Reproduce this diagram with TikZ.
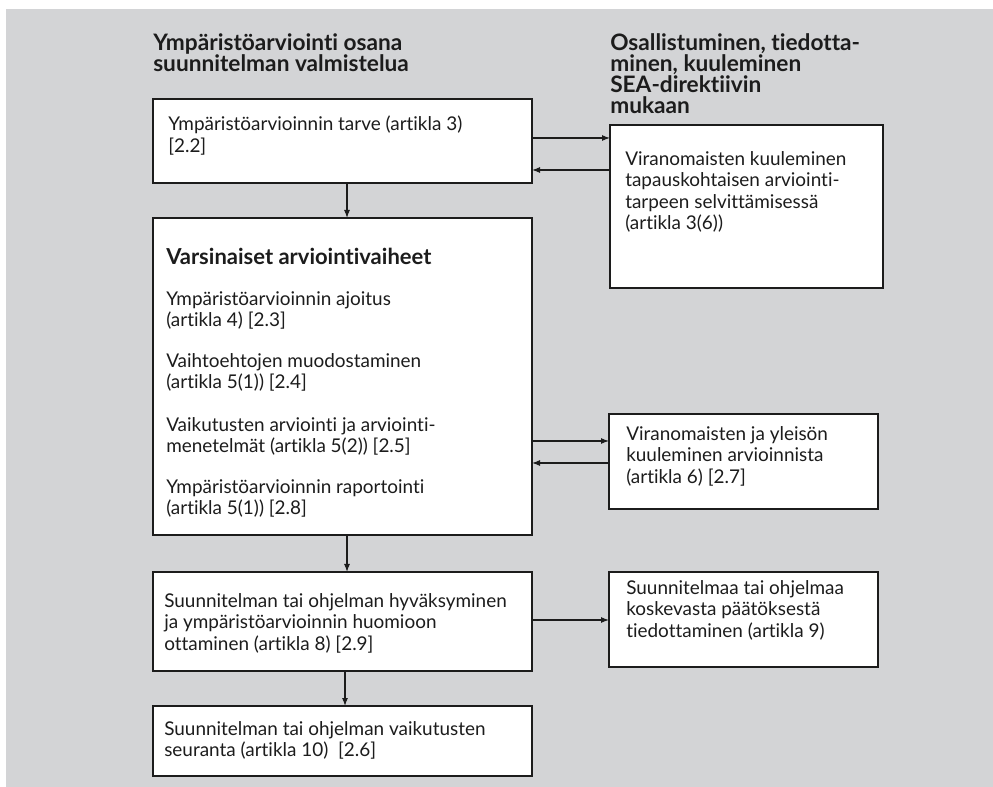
\documentclass[tikz,border=0pt]{standalone}
\usepackage{fontspec}
\setmainfont{Lato}[Ligatures={NoCommon,NoRequired,NoContextual},RawFeature={-liga;-dlig;-clig;-calt}]
\usetikzlibrary{arrows.meta}
\definecolor{bg}{RGB}{211,212,214}
\definecolor{ink}{RGB}{28,28,28}
\begin{document}
\begin{tikzpicture}[x=0.75pt,y=-0.75pt,
  box/.style={draw=ink,line width=1.2pt,fill=white,anchor=north west,inner sep=0pt,outer sep=0pt},
  txt/.style={anchor=north west,inner sep=0pt,align=left,text=ink,font=\fontsize{14.2}{16.1}\selectfont},
  btxt/.style={txt,font=\fontsize{16.5}{16}\selectfont\bfseries},
  ttxt/.style={txt,font=\fontsize{17}{15.8}\selectfont\bfseries},
  arr/.style={draw=ink,line width=0.8pt,-{Latex[length=6pt,width=4.5pt]}}]
\useasboundingbox (0,0) rectangle (993,787);
\fill[bg] (6,9) rectangle (993,787);
% boxes
\node[box,minimum width=284.25pt,minimum height=63pt] (b1) at (153,99) {};
\node[box,minimum width=284.25pt,minimum height=237.75pt] (b2) at (153,218) {};
\node[box,minimum width=284.25pt,minimum height=74.25pt] (b3) at (153,572) {};
\node[box,minimum width=284.25pt,minimum height=52.5pt] (b4) at (153,706) {};
\node[box,minimum width=204.75pt,minimum height=122.25pt] (r1) at (610,125) {};
\node[box,minimum width=201.75pt,minimum height=71.25pt] (r2) at (609,414) {};
\node[box,minimum width=201.75pt,minimum height=71.25pt] (r3) at (609,572) {};
% titles
\node[ttxt] (tl) at (153,33) {Ympäristöarviointi osana\\suunnitelman valmistelua};
\node[ttxt] (tr) at (610,33) {Osallistuminen, tiedotta-\\minen, kuuleminen\\SEA-direktiivin\\mukaan};
% texts
\node[txt] (t1) at (168,116) {Ympäristöarvioinnin tarve (artikla 3)\\{[2.2]}};
\node[txt] (t2) at (625,151) {Viranomaisten kuuleminen\\tapauskohtaisen arviointi-\\tarpeen selvittämisessä\\(artikla 3(6))};
\node[btxt] (t3) at (166,248) {Varsinaiset arviointivaiheet};
\node[txt] (t4) at (166,291) {Ympäristöarvioinnin ajoitus\\(artikla 4) [2.3]};
\node[txt] (t5) at (166,353) {Vaihtoehtojen muodostaminen\\(artikla 5(1)) [2.4]};
\node[txt] (t6) at (166,417) {Vaikutusten arviointi ja arviointi-\\menetelmät (artikla 5(2)) [2.5]};
\node[txt] (t7) at (166,479) {Ympäristöarvioinnin raportointi\\(artikla 5(1)) [2.8]};
\node[txt] (t8) at (626,426) {Viranomaisten ja yleisön\\kuuleminen arvioinnista\\(artikla 6) [2.7]};
\node[txt] (t9) at (164,593) {Suunnitelman tai ohjelman hyväksyminen\\ja ympäristöarvioinnin huomioon\\ottaminen (artikla 8) [2.9]};
\node[txt] (t10) at (626,580) {Suunnitelmaa tai ohjelmaa\\koskevasta päätöksestä\\tiedottaminen (artikla 9)};
\node[txt] (t11) at (164,721) {Suunnitelman tai ohjelman vaikutusten\\seuranta (artikla 10)\ \ [2.6]};
% helper coordinates
\coordinate (xa) at (347,0);
\coordinate (xb) at (345,0);
\coordinate (ya) at (0,138);
\coordinate (yb) at (0,170);
\coordinate (yc) at (0,441);
\coordinate (yd) at (0,463);
\coordinate (ye) at (0,620);
% connectors
\draw[arr] (b1.south -| xa) -- (b2.north -| xa);
\draw[arr] (b2.south -| xa) -- (b3.north -| xa);
\draw[arr] (b3.south -| xb) -- (b4.north -| xb);
\draw[arr] (b1.east |- ya) -- (r1.west |- ya);
\draw[arr] (r1.west |- yb) -- (b1.east |- yb);
\draw[arr] (b2.east |- yc) -- (r2.west |- yc);
\draw[arr] (r2.west |- yd) -- (b2.east |- yd);
\draw[arr] (b3.east |- ye) -- (r3.west |- ye);
\end{tikzpicture}
\end{document}
